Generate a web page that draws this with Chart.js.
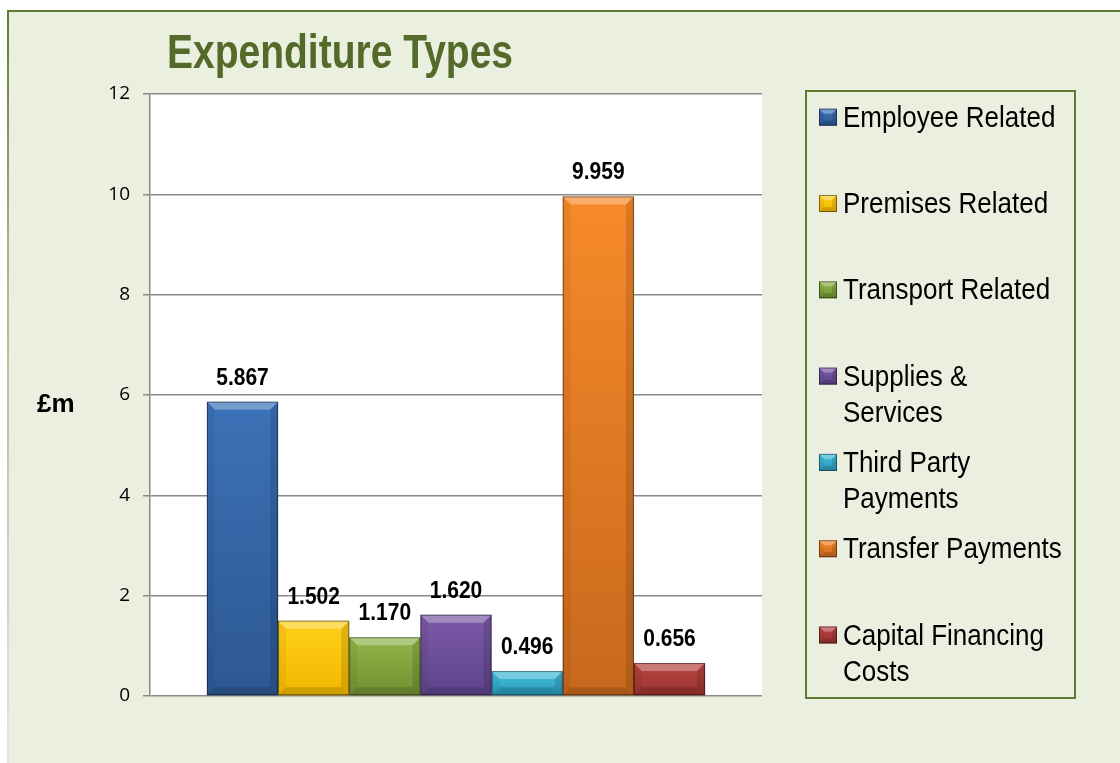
<!DOCTYPE html>
<html>
<head>
<meta charset="utf-8">
<title>Expenditure Types</title>
<script src="https://cdn.jsdelivr.net/npm/chart.js@4.4.1/dist/chart.umd.min.js"></script>
<style>
  html, body { margin: 0; padding: 0; background: #ffffff; }
  #wrap { position: relative; width: 1120px; height: 763px; }
</style>
</head>
<body>
<div id="wrap"><canvas id="expChart" width="1120" height="763"></canvas></div>
<script>
// data
const categories = ['Employee Related', 'Premises Related', 'Transport Related', 'Supplies & Services',
                    'Third Party Payments', 'Transfer Payments', 'Capital Financing Costs'];
const legendLines = [['Employee Related'], ['Premises Related'], ['Transport Related'], ['Supplies &', 'Services'],
                     ['Third Party', 'Payments'], ['Transfer Payments'], ['Capital Financing', 'Costs']];
const values = [5.867, 1.502, 1.170, 1.620, 0.496, 9.959, 0.656];
const valueLabels = ['5.867', '1.502', '1.170', '1.620', '0.496', '9.959', '0.656'];
const yMin = 0;
const yMax = 12;
const yStep = 2;
const chartTitle = 'Expenditure Types';
const yUnit = '£m';

// colours (top / bottom of each bar)
const colTop = ['#3c72b8', '#ffcf1a', '#92b64a', '#7c5aa8', '#40c0de', '#f78a2a', '#bc4441'];
const colBot = ['#2d5892', '#f2b800', '#6f9030', '#5d438a', '#2a98b6', '#c8681d', '#98332f'];

const FONT = "'Liberation Sans', Arial, sans-serif";

function barFill(i) {
    return function (ctx) {
        const chart = ctx.chart;
        const area = chart.chartArea;
        if (!area) return colTop[i];
        const top = chart.scales.y.getPixelForValue(values[i]);
        const g = chart.ctx.createLinearGradient(0, top, 0, area.bottom);
        g.addColorStop(0, colTop[i]);
        g.addColorStop(1, colBot[i]);
        return g;
    };
}

function stretchedText(ctx, text, x, y, sy) {
    ctx.save();
    ctx.translate(x, y);
    ctx.scale(1, sy);
    ctx.fillText(text, 0, 0);
    ctx.restore();
}

// bevelled block, used for bars and legend swatches
function bevel(ctx, left, top, right, bottom, b) {
    b = Math.min(b, (bottom - top) / 2, (right - left) / 2);
    ctx.save();
    ctx.fillStyle = 'rgba(255,255,255,0.3)';
    ctx.beginPath();
    ctx.moveTo(left, top); ctx.lineTo(right, top); ctx.lineTo(right - b, top + b); ctx.lineTo(left + b, top + b);
    ctx.closePath(); ctx.fill();
    ctx.fillStyle = 'rgba(0,0,0,0.05)';
    ctx.beginPath();
    ctx.moveTo(left, top); ctx.lineTo(left + b, top + b); ctx.lineTo(left + b, bottom - b); ctx.lineTo(left, bottom);
    ctx.closePath(); ctx.fill();
    ctx.fillStyle = 'rgba(0,0,0,0.12)';
    ctx.beginPath();
    ctx.moveTo(right, top); ctx.lineTo(right - b, top + b); ctx.lineTo(right - b, bottom - b); ctx.lineTo(right, bottom);
    ctx.closePath(); ctx.fill();
    ctx.fillStyle = 'rgba(0,0,0,0.15)';
    ctx.beginPath();
    ctx.moveTo(left, bottom); ctx.lineTo(left + b, bottom - b); ctx.lineTo(right - b, bottom - b); ctx.lineTo(right, bottom);
    ctx.closePath(); ctx.fill();
    ctx.strokeStyle = 'rgba(0,0,0,0.45)';
    ctx.lineWidth = 1;
    ctx.strokeRect(left + 0.5, top + 0.5, right - left - 1, bottom - top - 1);
    ctx.restore();
}

// panel, plot background, title, unit label and legend box
const panelPlugin = {
    id: 'panel',
    beforeDraw(chart) {
        const ctx = chart.ctx;
        const a = chart.chartArea;
        ctx.save();
        ctx.fillStyle = '#ffffff';
        ctx.fillRect(0, 0, chart.width, chart.height);
        ctx.fillStyle = '#ebefdf';
        ctx.fillRect(7, 10, chart.width - 7, chart.height - 10);
        ctx.fillStyle = '#5e7a33';
        ctx.fillRect(7, 10, chart.width - 7, 2);
        const lg = ctx.createLinearGradient(0, 10, 0, chart.height);
        lg.addColorStop(0, '#5e7a33');
        lg.addColorStop(0.35, '#a9bb8c');
        lg.addColorStop(1, '#dde5ee');
        ctx.fillStyle = lg;
        ctx.fillRect(7, 10, 2, chart.height - 10);
        ctx.fillStyle = '#ffffff';
        ctx.fillRect(a.left, a.top, a.right - a.left, a.bottom - a.top);
        ctx.restore();
    },
    afterDraw(chart) {
        const ctx = chart.ctx;
        ctx.save();
        // title
        ctx.fillStyle = '#536a2b';
        ctx.font = 'bold 39px ' + FONT;
        ctx.textAlign = 'left';
        ctx.textBaseline = 'alphabetic';
        stretchedText(ctx, chartTitle, 167, 68, 1.25);
        // unit
        ctx.fillStyle = '#000000';
        ctx.font = 'bold 26px ' + FONT;
        ctx.fillText(yUnit, 37, 412);
        // legend
        ctx.strokeStyle = '#5e7a33';
        ctx.lineWidth = 2;
        ctx.strokeRect(806, 91, 269, 607);
        ctx.font = '26px ' + FONT;
        legendLines.forEach(function (lines, i) {
            const base = 126.7 + 86.3 * i;
            const g = ctx.createLinearGradient(0, base - 18, 0, base - 1);
            g.addColorStop(0, colTop[i]);
            g.addColorStop(1, colBot[i]);
            ctx.fillStyle = g;
            ctx.fillRect(819, base - 18, 18, 17);
            bevel(ctx, 819, base - 18, 837, base - 1, 5);
            ctx.fillStyle = '#000000';
            lines.forEach(function (t, k) {
                stretchedText(ctx, t, 843, base + 36.5 * k, 1.13);
            });
        });
        ctx.restore();
    }
};

// bevels and value labels on the bars
const barDecor = {
    id: 'barDecor',
    afterDatasetsDraw(chart) {
        const ctx = chart.ctx;
        chart.data.datasets.forEach(function (ds, i) {
            const el = chart.getDatasetMeta(i).data[0];
            const p = el.getProps(['x', 'y', 'base', 'width'], true);
            bevel(ctx, p.x - p.width / 2, p.y, p.x + p.width / 2, p.base, 8);
            ctx.save();
            ctx.fillStyle = '#000000';
            ctx.font = 'bold 21px ' + FONT;
            ctx.textAlign = 'center';
            ctx.textBaseline = 'alphabetic';
            stretchedText(ctx, valueLabels[i], p.x, p.y - 17, 1.11);
            ctx.restore();
        });
    }
};

const datasets = categories.map(function (name, i) {
    return {
        label: name,
        data: [values[i]],
        backgroundColor: barFill(i),
        borderWidth: 0,
        barPercentage: 1.0,
        categoryPercentage: 0.814
    };
});

new Chart(document.getElementById('expChart'), {
    type: 'bar',
    data: { labels: [''], datasets: datasets },
    plugins: [panelPlugin, barDecor],
    options: {
        responsive: false,
        animation: false,
        layout: { padding: { left: 0, top: 94, right: 358, bottom: 67 } },
        plugins: {
            legend: { display: false },
            title: { display: false },
            tooltip: { enabled: false }
        },
        scales: {
            x: { display: false },
            y: {
                min: yMin,
                max: yMax,
                ticks: {
                    stepSize: yStep,
                    padding: 13,
                    color: '#000000',
                    font: { family: "'Open Sans', 'Noto Sans', sans-serif", size: 19 }
                },
                grid: { color: '#8a8a8a', lineWidth: 1.5, tickLength: 7, drawTicks: true },
                border: { color: '#8a8a8a', width: 1.5 },
                afterFit: function (scale) { scale.width = 150; }
            }
        }
    }
});
</script>
</body>
</html>
